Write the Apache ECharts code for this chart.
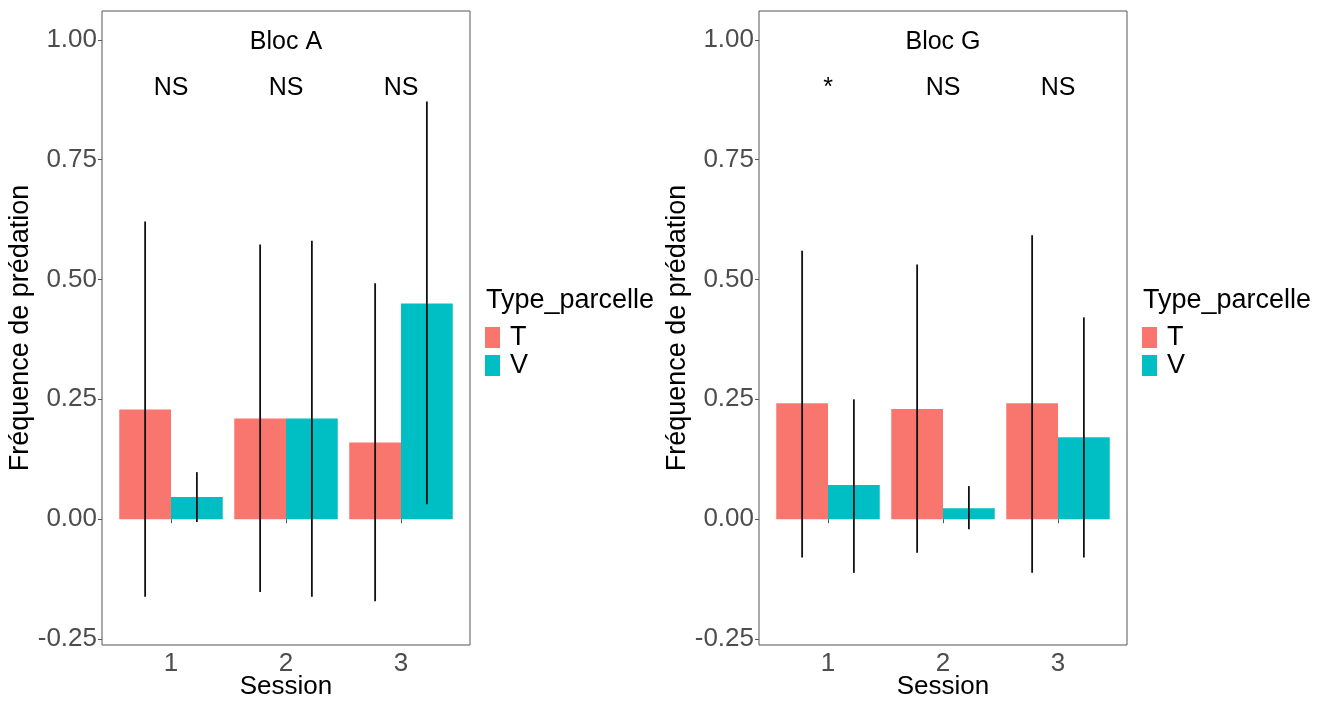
<!DOCTYPE html>
<html>
<head>
<meta charset="utf-8">
<script src="https://cdn.jsdelivr.net/npm/echarts@6/dist/echarts.min.js"></script>
<style>
html,body{margin:0;padding:0;background:#fff;}
#chart{width:1328px;height:702px;}
</style>
</head>
<body>
<div id="chart"></div>
<script>
// ---- data ----
const sessions = [1, 2, 3];
const yTicks = [-0.25, 0, 0.25, 0.5, 0.75, 1];

// Bloc A
const blocA_T = [0.229, 0.21, 0.16];
const blocA_V = [0.046, 0.21, 0.45];
const blocA_T_lo = [-0.162, -0.152, -0.171];
const blocA_T_hi = [0.621, 0.573, 0.492];
const blocA_V_lo = [-0.006, -0.162, 0.031];
const blocA_V_hi = [0.098, 0.581, 0.871];
const blocA_sig = ['NS', 'NS', 'NS'];

// Bloc G
const blocG_T = [0.242, 0.23, 0.242];
const blocG_V = [0.071, 0.023, 0.171];
const blocG_T_lo = [-0.08, -0.07, -0.112];
const blocG_T_hi = [0.56, 0.531, 0.592];
const blocG_V_lo = [-0.112, -0.021, -0.08];
const blocG_V_hi = [0.25, 0.069, 0.421];
const blocG_sig = ['*', 'NS', 'NS'];

const panelTitles = ['Bloc A', 'Bloc G'];
const titleY = 0.995;
const sigY = 0.9;

// ---- build ----
const FONT = 'Liberation Sans, Arial, sans-serif';
const colT = '#F8766D', colV = '#00BFC4';

function barData(vals){ return sessions.map((s,i)=>[s, vals[i]]); }
function errData(lo, hi, sign){ return sessions.map((s,i)=>[s, lo[i], hi[i], sign]); }

function errRender(params, api){
  const x = api.value(0);
  const p1 = api.coord([x, api.value(1)]);
  const p2 = api.coord([x, api.value(2)]);
  const band = api.size([1,0])[0];
  const dx = api.value(3) * 0.225 * band;
  return {type:'line', shape:{x1:p1[0]+dx, y1:p1[1], x2:p2[0]+dx, y2:p2[1]},
          style:{stroke:'#111', lineWidth:1.8}};
}
function textRenderFactory(labels){
  return function(params, api){
    const p = api.coord([api.value(0), api.value(1)]);
    return {type:'text', x:p[0], y:p[1],
      style:{text:labels[params.dataIndex], fill:'#000', font:'25px '+FONT, align:'center', verticalAlign:'middle'}};
  };
}

const grids = [
  {left:102, right:858, top:11, bottom:57},
  {left:759, right:201, top:11, bottom:57}
];

function xAxisFor(i){
  return {type:'value', gridIndex:i, min:0.4, max:3.6,
    name:'Session', nameLocation:'middle', nameGap:29, nameMoveOverlap:false,
    nameTextStyle:{fontSize:26, color:'#000', fontFamily:FONT},
    axisLine:{show:false},
    axisTick:{show:true, length:4, lineStyle:{color:'#555'}, customValues:sessions},
    axisLabel:{fontSize:26, color:'#4D4D4D', fontFamily:FONT, margin:6, customValues:sessions, formatter:v=>String(v)},
    splitLine:{show:false}};
}
function yAxisFor(i){
  return {type:'value', gridIndex:i, min:-0.2625, max:1.06,
    name:'Fréquence de prédation', nameLocation:'middle', nameGap:60,
    nameTextStyle:{fontSize:27, color:'#000', fontFamily:FONT},
    axisLine:{show:false},
    axisTick:{show:true, length:4, lineStyle:{color:'#555'}, customValues:yTicks},
    axisLabel:{fontSize:26, color:'#4D4D4D', fontFamily:FONT, margin:5, customValues:yTicks, formatter:v=>v.toFixed(2)},
    splitLine:{show:false}};
}

const blocs = [
  {T:blocA_T, V:blocA_V, Tlo:blocA_T_lo, Thi:blocA_T_hi, Vlo:blocA_V_lo, Vhi:blocA_V_hi, sig:blocA_sig},
  {T:blocG_T, V:blocG_V, Tlo:blocG_T_lo, Thi:blocG_T_hi, Vlo:blocG_V_lo, Vhi:blocG_V_hi, sig:blocG_sig}
];

const series = [];
blocs.forEach((b,i)=>{
  series.push({name:'T', type:'bar', xAxisIndex:i, yAxisIndex:i, data:barData(b.T), barWidth:'45%', barGap:0,
    itemStyle:{color:colT}, emphasis:{disabled:true}, animation:false});
  series.push({name:'V', type:'bar', xAxisIndex:i, yAxisIndex:i, data:barData(b.V), barWidth:'45%', barGap:0,
    itemStyle:{color:colV}, emphasis:{disabled:true}, animation:false});
  series.push({name:'errT'+i, type:'custom', xAxisIndex:i, yAxisIndex:i, renderItem:errRender,
    data:errData(b.Tlo, b.Thi, -1), encode:{x:0, y:[1,2]}, z:5, animation:false, clip:false});
  series.push({name:'errV'+i, type:'custom', xAxisIndex:i, yAxisIndex:i, renderItem:errRender,
    data:errData(b.Vlo, b.Vhi, 1), encode:{x:0, y:[1,2]}, z:5, animation:false, clip:false});
  series.push({name:'sig'+i, type:'custom', xAxisIndex:i, yAxisIndex:i, renderItem:textRenderFactory(b.sig),
    data:sessions.map(s=>[s, sigY]), encode:{x:0, y:1}, z:6, animation:false, clip:false});
  series.push({name:'title'+i, type:'custom', xAxisIndex:i, yAxisIndex:i, renderItem:textRenderFactory([panelTitles[i]]),
    data:[[2, titleY]], encode:{x:0, y:1}, z:6, animation:false, clip:false});
});

function legendFor(left){
  return {data:['T','V'], orient:'vertical', left:left, top:324, padding:0, icon:'rect',
    itemWidth:15, itemHeight:21, itemGap:1, selectedMode:false,
    textStyle:{fontSize:27, lineHeight:21, color:'#000', fontFamily:FONT, padding:[0,0,0,5]}};
}

const option = {
  backgroundColor:'#fff',
  animation:false,
  textStyle:{fontFamily:FONT},
  title:[
    {text:'Type_parcelle', left:486, top:287, padding:0, textStyle:{fontSize:27, fontWeight:'normal', color:'#000', fontFamily:FONT}},
    {text:'Type_parcelle', left:1143, top:287, padding:0, textStyle:{fontSize:27, fontWeight:'normal', color:'#000', fontFamily:FONT}}
  ],
  legend:[legendFor(485), legendFor(1142)],
  grid: grids.map(g=>Object.assign({show:true, borderColor:'#555', borderWidth:1, backgroundColor:'#fff',
    containLabel:false, outerBoundsMode:'none'}, g)),
  xAxis:[xAxisFor(0), xAxisFor(1)],
  yAxis:[yAxisFor(0), yAxisFor(1)],
  series:series
};

const chart = echarts.init(document.getElementById('chart'), null, {renderer:'canvas'});
chart.setOption(option);
</script>
</body>
</html>
